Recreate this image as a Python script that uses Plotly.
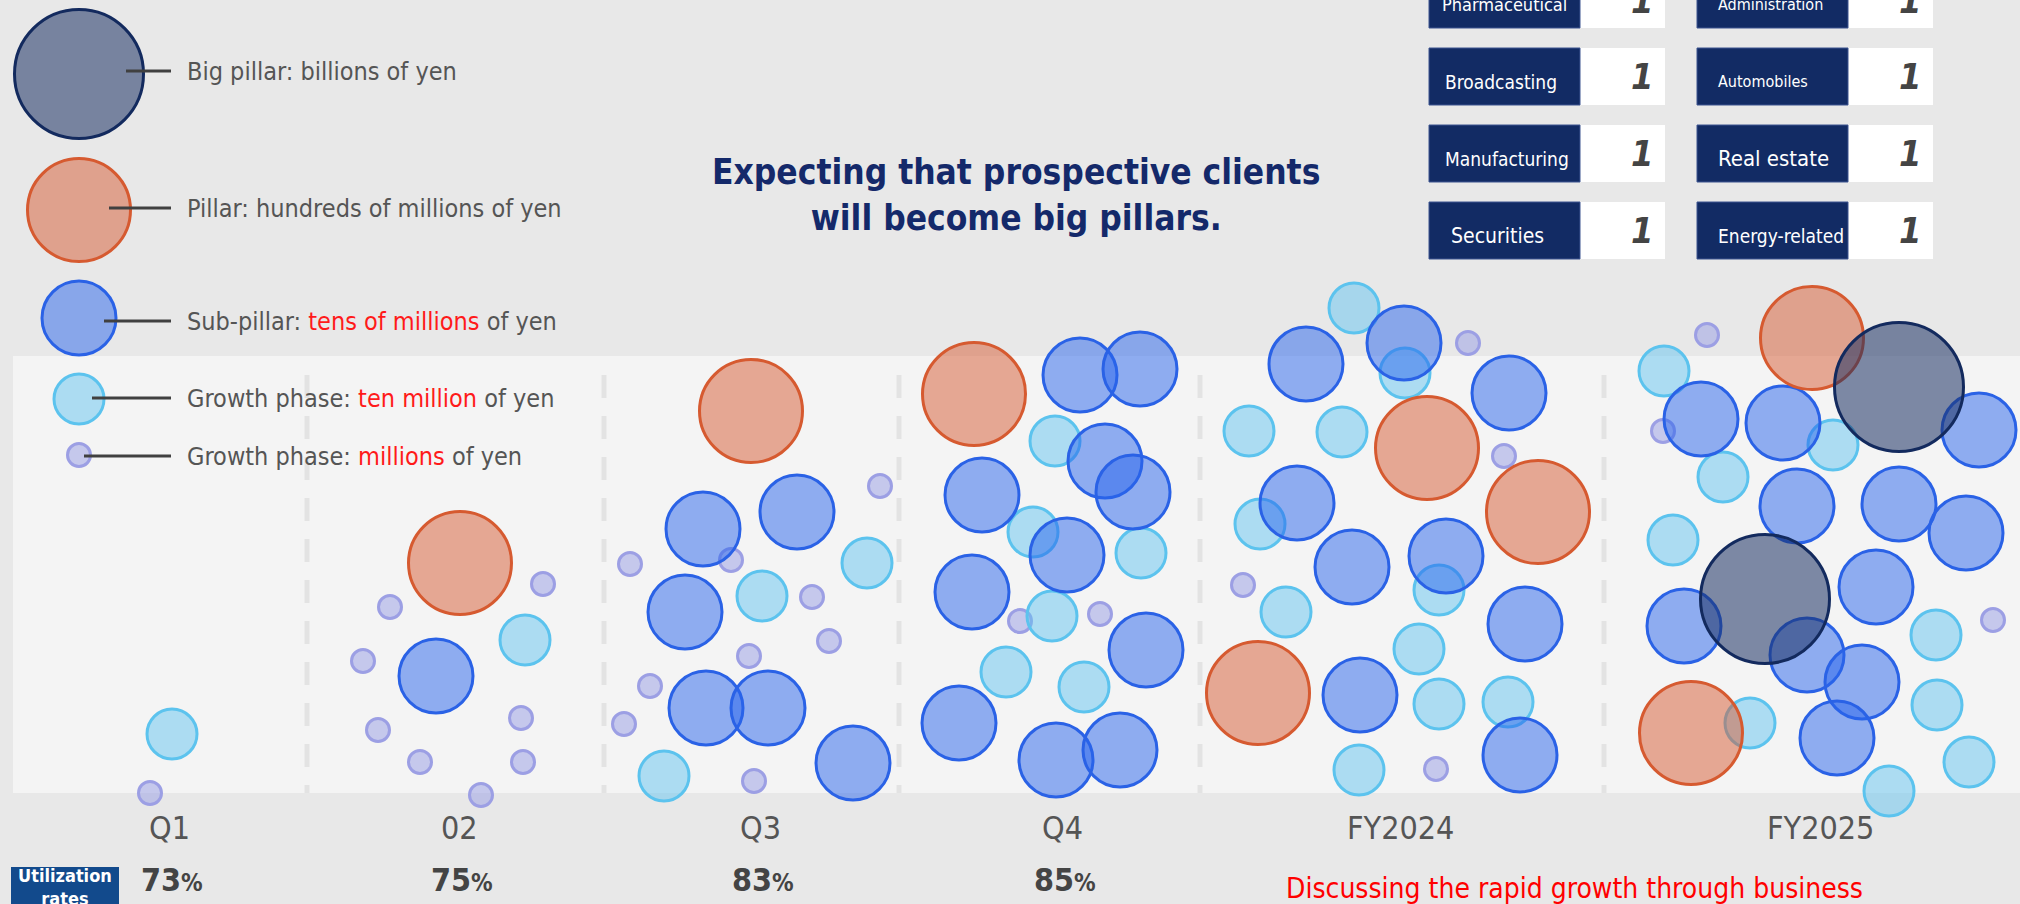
from plotly import graph_objects as go

# ---- data (pixel-space coordinates, y grows downward) ----
periods = ['Q1', '02', 'Q3', 'Q4', 'FY2024', 'FY2025']
period_x = [169, 459, 760, 1062, 1400, 1820]
utilization = ['73', '75', '83', '85']

# bubble centres by tier
big_x = [1899, 1765]
big_y = [387, 599]

pillar_x = [460, 751, 974, 1427, 1538, 1258, 1812, 1691]
pillar_y = [563, 411, 394, 448, 512, 693, 338, 733]

sub_x = [436,
         703, 797, 685, 706, 768, 853,
         1080, 1140, 1105, 1133, 982, 1067, 972, 1146, 959, 1056, 1120,
         1404, 1306, 1509, 1297, 1352, 1446, 1525, 1360, 1520,
         1701, 1783, 1979, 1797, 1899, 1966, 1876, 1684, 1807, 1862, 1837]
sub_y = [676,
         529, 512, 612, 708, 708, 763,
         375, 369, 461, 492, 495, 555, 592, 650, 723, 760, 750,
         343, 364, 393, 503, 567, 556, 624, 695, 755,
         419, 423, 430, 506, 504, 533, 587, 626, 655, 682, 738]

growth10_x = [172,
              525,
              867, 762, 664,
              1055, 1033, 1141, 1052, 1006, 1084,
              1354, 1405, 1249, 1342, 1260, 1439, 1286, 1419, 1439, 1508, 1359,
              1664, 1833, 1723, 1673, 1936, 1750, 1937, 1969, 1889]
growth10_y = [734,
              640,
              563, 596, 776,
              441, 532, 553, 616, 672, 687,
              308, 373, 431, 432, 524, 590, 612, 649, 704, 702, 770,
              371, 445, 477, 540, 635, 723, 705, 762, 791]

growth1_x = [150,
             543, 390, 363, 521, 378, 420, 523, 481,
             880, 630, 731, 812, 829, 749, 650, 624, 754,
             1020, 1100,
             1468, 1504, 1243, 1436,
             1707, 1663, 1993]
growth1_y = [793,
             584, 607, 661, 718, 730, 762, 762, 795,
             486, 564, 560, 597, 641, 656, 686, 724, 781,
             621, 614,
             343, 456, 585, 769,
             335, 431, 620]

# legend
legend_labels = [
    'Big pillar: billions of yen',
    'Pillar: hundreds of millions of yen',
    "Sub-pillar: <span style='color:#ff1a1a'>tens of millions</span> of yen",
    "Growth phase: <span style='color:#ff1a1a'>ten million</span> of yen",
    "Growth phase: <span style='color:#ff1a1a'>millions</span> of yen",
]
legend_y = [74, 210, 318, 399, 455]
legend_text_y = [71, 208, 321, 398, 456]

# industry table
sectors_left = ['Pharmaceutical', 'Broadcasting', 'Manufacturing', 'Securities']
sectors_right = ['Administration', 'Automobiles', 'Real estate', 'Energy-related']
counts_left = [1, 1, 1, 1]
counts_right = [1, 1, 1, 1]

# ---- styles ----
FONT = 'Liberation Sans Narrow, DejaVu Sans Condensed, Roboto, sans-serif'
BG = '#e8e8e8'
PANEL = '#f4f4f4'

tiers = [
    # name, x, y, size, fill, line
    ('big', big_x, big_y, 129, 'rgba(26,47,99,0.55)', '#132a5e'),
    ('pillar', pillar_x, pillar_y, 103, 'rgba(213,90,50,0.5)', '#d65a30'),
    ('sub', sub_x, sub_y, 74, 'rgba(40,100,235,0.5)', '#2a62e6'),
    ('growth10', growth10_x, growth10_y, 50, 'rgba(100,195,240,0.5)', '#5cc3ee'),
    ('growth1', growth1_x, growth1_y, 23, 'rgba(150,155,228,0.5)', '#9c9fe4'),
]

fig = go.Figure()

# panel and separators
shapes = [dict(type='rect', xref='x', yref='y', x0=13, x1=2020, y0=356, y1=793,
               fillcolor=PANEL, line_width=0, layer='below')]
for sx in [307, 604, 899, 1200, 1604]:
    shapes.append(dict(type='line', xref='x', yref='y', x0=sx, x1=sx, y0=375, y1=793,
                       line=dict(color='#e3e3e3', width=5, dash='23px,18px'), layer='below'))

# legend connector lines
legend_line_start = [126, 109, 104, 92, 84]
for xs, ly in zip(legend_line_start, legend_text_y):
    shapes.append(dict(type='line', xref='x', yref='y', x0=xs, x1=171, y0=ly, y1=ly,
                       line=dict(color='#404040', width=3)))

# bubbles, small first so big ones sit on top
for name, xs, ys, size, fill, line in reversed(tiers):
    fig.add_trace(go.Scatter(x=xs, y=ys, mode='markers', name=name, showlegend=False,
                             hoverinfo='skip',
                             marker=dict(size=size, color=fill,
                                         line=dict(color=line, width=3))))

# legend bubbles
for (name, xs, ys, size, fill, line), ly in zip(tiers, legend_y):
    fig.add_trace(go.Scatter(x=[79], y=[ly], mode='markers', showlegend=False, hoverinfo='skip',
                             marker=dict(size=size, color=fill,
                                         line=dict(color=line, width=3))))

annotations = []
for txt, ty in zip(legend_labels, legend_text_y):
    annotations.append(dict(x=185, y=ty, text=txt, showarrow=False, xanchor='left', yanchor='middle',
                            font=dict(family=FONT, size=25, color='#555555')))

# headline
annotations.append(dict(x=1016, y=195, text='<b>Expecting that prospective clients<br>will become big pillars.</b>',
                        showarrow=False, xanchor='center', yanchor='middle', align='center',
                        font=dict(family=FONT, size=35, color='#14296a')))

# industry table
row_top = [-29, 48, 125, 202]
left_label_size = [18, 19, 19, 21]
left_label_x = [1440, 1443, 1443, 1449]
right_label_size = [16, 16, 22, 19]
for i in range(4):
    y0 = row_top[i]
    y1 = y0 + 57
    shapes.append(dict(type='rect', xref='x', yref='y', x0=1580, x1=1665, y0=y0, y1=y1,
                       fillcolor='white', line_width=0))
    shapes.append(dict(type='rect', xref='x', yref='y', x0=1429, x1=1580, y0=y0, y1=y1,
                       fillcolor='#122b64', line=dict(color='#3c5590', width=1)))
    shapes.append(dict(type='rect', xref='x', yref='y', x0=1848, x1=1933, y0=y0, y1=y1,
                       fillcolor='white', line_width=0))
    shapes.append(dict(type='rect', xref='x', yref='y', x0=1697, x1=1848, y0=y0, y1=y1,
                       fillcolor='#122b64', line=dict(color='#3c5590', width=1)))
    ymid = (y0 + y1) / 2
    # annotations anchored outside the axis range are hidden, so clamp to the top edge
    num_y = max(ymid, 0.5)
    annotations.append(dict(x=left_label_x[i], y=ymid + 5, text=sectors_left[i], showarrow=False,
                            xanchor='left', yanchor='middle',
                            font=dict(family=FONT, size=left_label_size[i], color='white')))
    annotations.append(dict(x=1716, y=ymid + 5, text=sectors_right[i], showarrow=False,
                            xanchor='left', yanchor='middle',
                            font=dict(family=FONT, size=right_label_size[i], color='white')))
    annotations.append(dict(x=1656, y=num_y, text='<b><i>%d</i></b>' % counts_left[i], showarrow=False,
                            xanchor='right', yanchor='middle',
                            font=dict(family=FONT, size=36, color='#444444')))
    annotations.append(dict(x=1924, y=num_y, text='<b><i>%d</i></b>' % counts_right[i], showarrow=False,
                            xanchor='right', yanchor='middle',
                            font=dict(family=FONT, size=36, color='#444444')))

# period labels
for lab, px in zip(periods, period_x):
    annotations.append(dict(x=px, y=828, text=lab, showarrow=False, xanchor='center', yanchor='middle',
                            font=dict(family=FONT, size=32, color='#555555')))

# utilization rates
shapes.append(dict(type='rect', xref='x', yref='y', x0=11, x1=119, y0=867, y1=910,
                   fillcolor='#124a8c', line_width=0))
annotations.append(dict(x=65, y=887, text='<b>Utilization<br>rates</b>', showarrow=False,
                        xanchor='center', yanchor='middle', align='center',
                        font=dict(family=FONT, size=18, color='white')))
for val, px in zip(utilization, period_x):
    annotations.append(dict(x=px + 3, y=880, text="<b>%s<span style='font-size:24px'>%%</span></b>" % val,
                            showarrow=False, xanchor='center', yanchor='middle',
                            font=dict(family=FONT, size=32, color='#444444')))

annotations.append(dict(x=1284, y=888, text='Discussing the rapid growth through business', showarrow=False,
                        xanchor='left', yanchor='middle',
                        font=dict(family=FONT, size=28, color='#ff0000')))

fig.update_layout(
    width=2020, height=904,
    margin=dict(l=0, r=0, t=0, b=0),
    paper_bgcolor=BG, plot_bgcolor=BG,
    xaxis=dict(range=[0, 2020], visible=False, fixedrange=True),
    yaxis=dict(range=[904, 0], visible=False, fixedrange=True),
    shapes=shapes,
    annotations=annotations,
    showlegend=False,
)

# drop the default page margin so the figure fills the window
fig.write_html('out.html', config={'displayModeBar': False},
               post_script="document.body.style.margin='0';document.body.style.overflow='hidden';")
